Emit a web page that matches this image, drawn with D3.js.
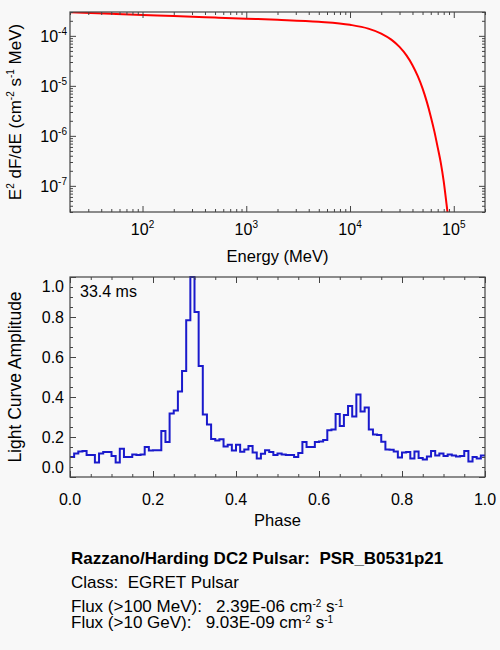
<!DOCTYPE html>
<html><head><meta charset="utf-8">
<script src="https://cdn.jsdelivr.net/npm/d3@7"></script>
<style>
html,body{margin:0;padding:0;background:#f8f8f8;}
svg{display:block;font-family:"Liberation Sans",Arial,Helvetica,sans-serif;}
text{white-space:pre;fill:#000;}
</style></head><body>
<svg id="c" width="500" height="650"></svg>
<script>
// ---------------- data ----------------
const energies = [20,50,100,200,500,1000,2000,5000,10000,15000,20000,25000,30000,35000,40000,45000,50000,55000,60000,65000,70000,75000,80000,85000,90000];
const e2dfde = [2.951e-4,2.761e-4,2.624e-4,2.495e-4,2.328e-4,2.208e-4,2.094e-4,1.910e-4,1.663e-4,1.396e-4,1.112e-4,8.39e-5,6.01e-5,4.06e-5,2.59e-5,1.56e-5,8.89e-6,4.78e-6,2.45e-6,1.23e-6,5.89e-7,2.88e-7,1.23e-7,4.47e-8,1.66e-8];
const energyDomain = [20, 2e5];
const fluxDomain = [3e-8, 3e-4];
const energyTicks = [1e2,1e3,1e4,1e5];
const energyTickExp = ["2","3","4","5"];
const fluxTicks = [1e-4,1e-5,1e-6,1e-7];
const fluxTickExp = ["-4","-5","-6","-7"];

const lightCurve = [
 0.100,0.118,0.128,0.130,0.110,0.110,0.073,0.118,0.125,0.125,
 0.105,0.073,0.141,0.100,0.100,0.112,0.110,0.113,0.150,0.132,
 0.134,0.134,0.230,0.175,0.318,0.333,0.427,0.530,0.784,1.000,
 0.825,0.555,0.313,0.263,0.190,0.183,0.189,0.153,0.161,0.133,
 0.161,0.126,0.138,0.155,0.122,0.092,0.116,0.134,0.125,0.110,
 0.117,0.113,0.110,0.110,0.100,0.120,0.175,0.150,0.150,0.175,
 0.178,0.185,0.234,0.237,0.315,0.255,0.310,0.355,0.303,0.413,
 0.328,0.348,0.238,0.213,0.210,0.176,0.137,0.136,0.127,0.098,
 0.122,0.125,0.092,0.127,0.095,0.088,0.103,0.130,0.107,0.117,
 0.105,0.112,0.107,0.102,0.105,0.130,0.077,0.100,0.093,0.107];
const phaseDomain = [0, 1];
const ampDomain = [0, 1];
const phaseTicks = [0,0.2,0.4,0.6,0.8,1.0];
const phaseTickLabels = ["0.0","0.2","0.4","0.6","0.8","1.0"];
const ampTicks = [0,0.2,0.4,0.6,0.8,1.0];
const ampTickLabels = ["0.0","0.2","0.4","0.6","0.8","1.0"];
const periodLabel = "33.4 ms";

const infoTitle = "Razzano/Harding DC2 Pulsar:  PSR_B0531p21";
const infoClass = "Class:  EGRET Pulsar";
const infoFlux1 = [["Flux (>100 MeV):   2.39E-06 cm",0],["-2",1],[" s",0],["-1",1]];
const infoFlux2 = [["Flux (>10 GeV):   9.03E-09 cm",0],["-2",1],[" s",0],["-1",1]];

// ---------------- drawing ----------------
const svg = d3.select("#c");
svg.append("rect").attr("width",500).attr("height",650).attr("fill","#f8f8f8");
const axisColor = "#444";
const FS = 16;

function rich(sel, parts, supSize, shift){
  parts.forEach(([t,s],i)=>{
    const ts = sel.append("tspan").text(t);
    if(s){ ts.attr("font-size",supSize).attr("dy",-shift); }
    else if(i>0 && parts[i-1][1]){ ts.attr("dy",shift); }
  });
}

function frameTicks(g, x, y, X0,X1,Y0,Y1, xMaj,xMin,yMaj,yMin){
  const mk = (axisFn, scale, vals, size, tr) => {
    const a = g.append("g").attr("transform",tr)
      .call(axisFn(scale).tickValues(vals).tickSize(-size).tickSizeOuter(0).tickFormat(""));
    a.select(".domain").remove();
    a.selectAll("line").attr("stroke",axisColor).attr("stroke-width",1);
  };
  mk(d3.axisBottom, x, xMaj, 6, `translate(0,${Y1})`);
  mk(d3.axisBottom, x, xMin, 3, `translate(0,${Y1})`);
  mk(d3.axisTop, x, xMaj, 6, `translate(0,${Y0})`);
  mk(d3.axisTop, x, xMin, 3, `translate(0,${Y0})`);
  mk(d3.axisLeft, y, yMaj, 6, `translate(${X0},0)`);
  mk(d3.axisLeft, y, yMin, 3, `translate(${X0},0)`);
  mk(d3.axisRight, y, yMaj, 6, `translate(${X1},0)`);
  mk(d3.axisRight, y, yMin, 3, `translate(${X1},0)`);
  g.append("rect").attr("x",X0).attr("y",Y0).attr("width",X1-X0).attr("height",Y1-Y0)
    .attr("fill","none").attr("stroke",axisColor).attr("stroke-width",1.2);
}

// ===== top: spectrum =====
{
  const X0=70, X1=485, Y0=12, Y1=212;
  const x = d3.scaleLog().domain(energyDomain).range([X0,X1]);
  const y = d3.scaleLog().domain(fluxDomain).range([Y1,Y0]);
  const g = svg.append("g");
  svg.append("clipPath").attr("id","clipTop").append("rect")
    .attr("x",X0).attr("y",Y0).attr("width",X1-X0).attr("height",Y1-Y0);
  const pts = energies.map((e,i)=>[x(e), y(e2dfde[i])]);
  g.append("path").attr("clip-path","url(#clipTop)")
    .attr("d", d3.line().curve(d3.curveMonotoneX)(pts))
    .attr("fill","none").attr("stroke","#f00").attr("stroke-width",2);
  const isPow = v => Math.abs(Math.log10(v)-Math.round(Math.log10(v)))<1e-9;
  const xMin = x.ticks().filter(v=>!isPow(v));
  const yMin = y.ticks().filter(v=>!isPow(v));
  frameTicks(g,x,y,X0,X1,Y0,Y1,energyTicks,xMin,fluxTicks,yMin);
  energyTicks.forEach((v,i)=>{
    const t = g.append("text").attr("x",x(v)).attr("y",235).attr("text-anchor","middle").attr("font-size",FS);
    rich(t,[["10",0],[energyTickExp[i],1]],10,7);
  });
  fluxTicks.forEach((v,i)=>{
    const t = g.append("text").attr("x",67).attr("y",y(v)+6).attr("text-anchor","end").attr("font-size",FS);
    rich(t,[["10",0],[fluxTickExp[i],1]],10,7);
  });
  g.append("text").attr("x",(X0+X1)/2).attr("y",262).attr("text-anchor","middle")
    .attr("font-size",16.5).text("Energy (MeV)");
  const yt = g.append("text").attr("transform",`translate(21,${(Y0+Y1)/2}) rotate(-90)`)
    .attr("text-anchor","middle").attr("font-size",17);
  rich(yt,[["E",0],["2",1],[" dF/dE (cm",0],["-2",1],[" s",0],["-1",1],[" MeV)",0]],10,7);
}

// ===== bottom: light curve =====
{
  const X0=70, X1=485, Y0=277, Y1=477;
  const x = d3.scaleLinear().domain(phaseDomain).range([X0,X1]);
  const y = d3.scaleLinear().domain(ampDomain).range([Y1,Y0]);
  const g = svg.append("g");
  svg.append("clipPath").attr("id","clipBot").append("rect")
    .attr("x",X0).attr("y",Y0-1).attr("width",X1-X0).attr("height",Y1-Y0+1);
  const N = lightCurve.length;
  const pts = lightCurve.map((v,i)=>[x(i/N), y(v)]);
  pts.push([x(1), y(lightCurve[N-1])]);
  g.append("path").attr("clip-path","url(#clipBot)")
    .attr("d", d3.line().curve(d3.curveStepAfter)(pts))
    .attr("fill","none").attr("stroke","#1a1acc").attr("stroke-width",2);
  const xMin = d3.range(0,1.0001,0.05).filter(v=>Math.abs(v*5-Math.round(v*5))>1e-6);
  const yMin = xMin;
  frameTicks(g,x,y,X0,X1,Y0,Y1,phaseTicks,xMin,ampTicks,yMin);
  phaseTicks.forEach((v,i)=>{
    g.append("text").attr("x",x(v)).attr("y",505).attr("text-anchor","middle")
      .attr("font-size",FS).text(phaseTickLabels[i]);
  });
  ampTicks.forEach((v,i)=>{
    const off = v===ampDomain[1] ? 9 : (v===ampDomain[0] ? -10 : 0);
    g.append("text").attr("x",64).attr("y",y(v)+off+6).attr("text-anchor","end")
      .attr("font-size",FS).text(ampTickLabels[i]);
  });
  g.append("text").attr("x",80).attr("y",297).attr("font-size",FS).text(periodLabel);
  g.append("text").attr("x",(X0+X1)/2).attr("y",526).attr("text-anchor","middle")
    .attr("font-size",16.5).text("Phase");
  g.append("text").attr("transform",`translate(21,${(Y0+Y1)/2}) rotate(-90)`)
    .attr("text-anchor","middle").attr("font-size",17.5).text("Light Curve Amplitude");
}

// ===== info text =====
svg.append("text").attr("x",71).attr("y",564).attr("font-size",17).attr("font-weight","bold").text(infoTitle);
svg.append("text").attr("x",71).attr("y",588).attr("font-size",17).text(infoClass);
rich(svg.append("text").attr("x",71).attr("y",611.5).attr("font-size",17), infoFlux1, 10, 5);
rich(svg.append("text").attr("x",71).attr("y",627.5).attr("font-size",17), infoFlux2, 10, 5);
</script>
</body></html>
